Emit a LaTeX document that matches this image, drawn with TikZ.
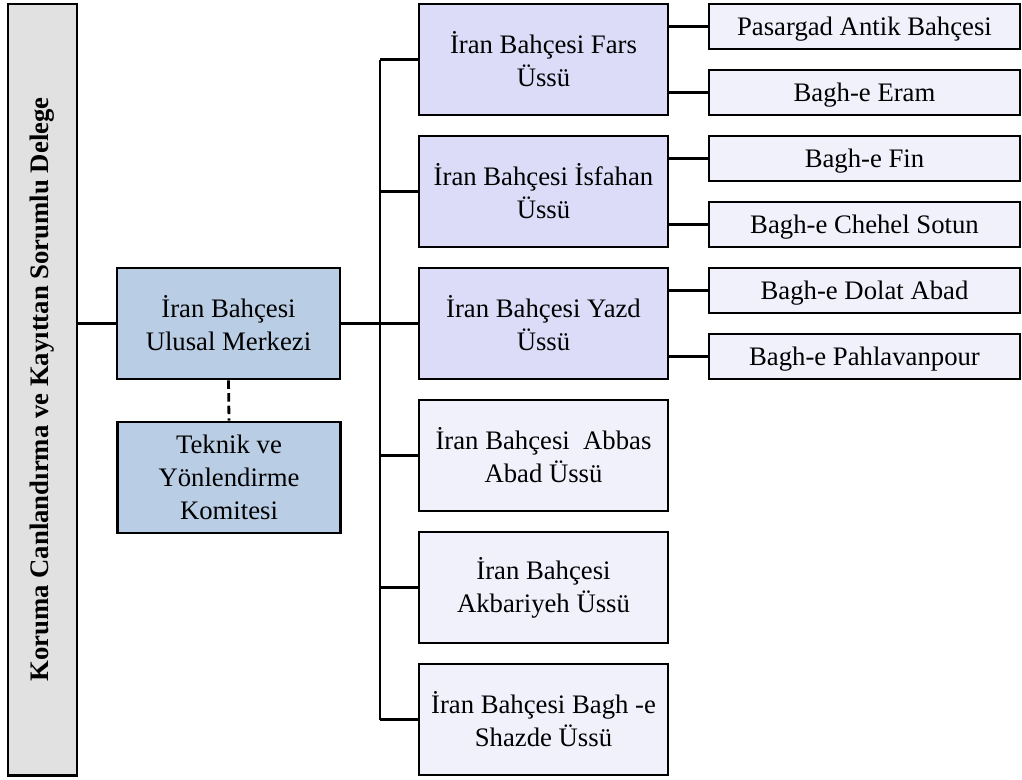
\documentclass[tikz,border=0pt]{standalone}
\usepackage{fontspec}
\setmainfont{Liberation Serif}
\usepackage{tikz}
\usetikzlibrary{positioning}
\definecolor{greyfill}{HTML}{E1E1E1}
\definecolor{bluefill}{HTML}{B9CDE5}
\definecolor{lavfill}{HTML}{DCDCF8}
\definecolor{palefill}{HTML}{F1F1FC}

\begin{document}
\begin{tikzpicture}[x=0.025cm,y=-0.025cm,line width=2pt,
  box/.style={draw,rectangle,align=center,inner sep=2pt,font=\fontsize{19}{23.5}\selectfont},
  centre/.style={box,fill=bluefill,minimum width=5.575cm,minimum height=2.775cm},
  base/.style={box,minimum width=6.225cm,minimum height=2.775cm},
  garden/.style={box,fill=palefill,text height=12.5pt,text depth=0pt,minimum width=7.775cm,minimum height=1.125cm}]
\useasboundingbox (0,0) rectangle (1022,779);
\node (delege) at (42.5,389.5) [box,fill=greyfill,rotate=90,minimum width=19.275cm,minimum height=1.725cm,font=\fontsize{19}{23.5}\selectfont\bfseries] {Koruma Canlandırma ve Kayıttan Sorumlu Delege};
\node (merkezi) at (228.5,323.5) [centre] {İran Bahçesi\\Ulusal Merkezi};
\node (teknik) at (229,477.5) [centre] {Teknik ve\\Yönlendirme\\Komitesi};
\node (fars) at (543.5,59.5) [base,fill=lavfill] {İran Bahçesi Fars\\Üssü};
\node (isfahan) at (543.5,191.5) [base,fill=lavfill] {İran Bahçesi İsfahan\\Üssü};
\node (yazd) at (543.5,323.5) [base,fill=lavfill] {İran Bahçesi Yazd\\Üssü};
\node (abbas) at (543.5,455.5) [base,fill=palefill] {İran Bahçesi\ \ Abbas\\Abad Üssü};
\node (akbariyeh) at (543.5,587.5) [base,fill=palefill] {İran Bahçesi\\Akbariyeh Üssü};
\node (shazde) at (543.5,719.5) [base,fill=palefill] {İran Bahçesi Bagh -e\\Shazde Üssü};
\node (pasargad) at (864.5,26.5) [garden] {Pasargad Antik Bahçesi};
\node (eram) at (864.5,92.5) [garden] {Bagh-e Eram};
\node (fin) at (864.5,158.5) [garden] {Bagh-e Fin};
\node (chehel) at (864.5,224.5) [garden] {Bagh-e Chehel Sotun};
\node (dolat) at (864.5,290.5) [garden] {Bagh-e Dolat Abad};
\node (pahlavan) at (864.5,356.5) [garden] {Bagh-e Pahlavanpour};
\coordinate (trunk) at (380,323.5);
\draw (merkezi.west -| delege.south) -- (merkezi.west);
\draw[dash pattern=on 6pt off 3pt] (merkezi.south) -- (teknik.north);
\draw (merkezi.east) -- (trunk);
\draw (trunk |- fars.west) -- (trunk |- shazde.west);
\foreach \b in {fars,isfahan,yazd,abbas,akbariyeh,shazde}
  \draw (trunk |- \b.west) -- (\b.west);
\foreach \b/\g in {fars/pasargad,fars/eram,isfahan/fin,isfahan/chehel,yazd/dolat,yazd/pahlavan}
  \draw (\b.east |- \g.west) -- (\g.west);
\end{tikzpicture}
\end{document}
